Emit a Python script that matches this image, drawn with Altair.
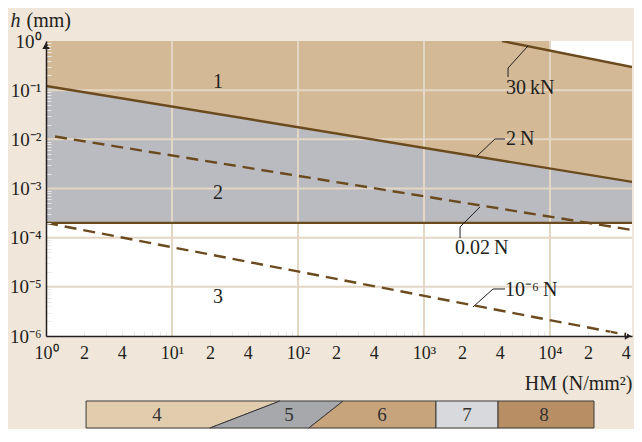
import altair as alt
import pandas as pd

FONT = "Liberation Serif"
INK = "#231f20"
BROWN = "#6b4a1e"
TAN = "#d3b996"
GREY = "#b9bbc0"
WHITE = "#ffffff"
BG = "#f0e6da"
GRID = "#e4d6c4"
MINOR = "#e9e9e9"

# ---------------- data ----------------
hm_domain = [1, 44750]
h_domain = [1e-6, 1]

# boundary / force lines: endpoints (HM N/mm^2, h mm)
line_2N_hm = [1, 5e4]
line_2N_h = [0.122, 0.0013]
line_30kN_hm = [4160, 5e4]
line_30kN_h = [1.0, 0.28]
line_limit_hm = [1, 5e4]
line_limit_h = [2e-4, 2e-4]
line_002N_hm = [1.18, 5e4]
line_002N_h = [0.0114, 1.37e-4]
line_1uN_hm = [1, 4.08e4]
line_1uN_h = [2.0e-4, 1.05e-6]

# white region above the 30 kN line (right of 10^4)
white_hm = [1e4, 5e4]
white_h = [0.64, 0.28]

# region labels
region_text = ["1", "2", "3"]
region_hm = [23.2, 23.2, 23.2]
region_h = [0.147, 8.1e-4, 6.2e-6]

# force labels
force_text = ["30\u2009kN", "2\u2009N", "0.02\u2009N", "10\u207b\u2076\u2009N"]
force_hm = [4475, 4475, 1762, 4395]
force_h = [0.111, 0.0102, 6.2e-5, 8.6e-6]

# leader lines
leader_group = ["a", "a", "a", "b", "b", "b", "c", "c", "c", "d", "d", "d"]
leader_hm = [4645, 4645, 6683, 4395, 3656, 2636, 1932, 1932, 2780, 4395, 3532, 2449]
leader_h = [0.185, 0.282, 0.791, 0.01016, 0.01016, 4.58e-3,
            9.84e-5, 1.65e-4, 4.21e-4, 9.04e-6, 9.04e-6, 3.89e-6]

# axis ticks
x_label_vals = [1, 2, 4, 10, 20, 40, 100, 200, 400, 1000, 2000, 4000, 1e4, 2e4, 4e4]
x_label_text = ["10\u2070", "2", "4", "10\u00b9", "2", "4", "10\u00b2", "2", "4",
                "10\u00b3", "2", "4", "10\u2074", "2", "4"]
y_label_vals = [1, 0.1, 0.01, 1e-3, 1e-4, 1e-5, 1e-6]
y_label_text = ["10\u2070", "10\u207b\u00b9", "10\u207b\u00b2", "10\u207b\u00b3",
                "10\u207b\u2074", "10\u207b\u2075", "10\u207b\u2076"]
grid_h = [0.1, 0.01, 1e-3, 1e-4, 1e-5]
grid_hm = [10, 100, 1000, 1e4]

# material bar segments (HM positions of the boundaries)
bar_seg = ["4", "5", "6", "7", "8"]
bar_top_left = [2.08, 72, 228, 1245, 3870]
bar_top_right = [72, 228, 1245, 3870, 22340]
bar_bot_left = [2.08, 20, 122, 1245, 3870]
bar_bot_right = [20, 122, 1245, 3870, 22340]
bar_colors = ["#e2ccae", "#a6a8ac", "#c8a47d", "#d8d9dc", "#b88f64"]
bar_label_hm = [7.6, 85, 464, 2193, 8960]

# ---------------- layout ----------------
W, H = 586, 295
BAR_TOP, BAR_BOT = 360, 387  # pixel offsets below plot top
k = BAR_BOT - BAR_TOP
bar_d1 = BAR_BOT / k
bar_d0 = bar_d1 - H / k

minor_x = [m * 10 ** e for e in range(0, 5) for m in range(2, 10) if m * 10 ** e < 44750]
minor_y = [m * 10.0 ** e for e in range(-6, 0) for m in range(2, 10)]


def label_expr(vals, texts):
    s = ""
    for v, t in zip(vals, texts):
        s += f"datum.value == {v!r} ? '{t}' : "
    return s + "''"


is_decade = "abs(log(datum.value)/LN10 - round(log(datum.value)/LN10)) < 1e-6"
minor_opacity = {"condition": {"test": is_decade, "value": 0}, "value": 1}

x_axis = alt.Axis(
    values=sorted(set(x_label_vals + minor_x)),
    labelExpr=label_expr(x_label_vals, x_label_text),
    labelOverlap=False, labelFlush=False, labelBound=False,
    ticks=False, tickSize=0, labelPadding=8, labelFontSize=18,
    grid=True, gridColor=MINOR, gridDash=[0, H - 5, 5, 2000], gridWidth=1,
    gridOpacity=minor_opacity,
    domainColor=INK, domainWidth=1.5, zindex=1,
    title="HM (N/mm\u00b2)", titleAngle=0, titleX=586, titleY=47,
    titleAlign="right", titleBaseline="middle", titleFontWeight="normal", titleFontSize=20,
)
y_axis = alt.Axis(
    values=sorted(set(y_label_vals + minor_y)),
    labelExpr=label_expr(y_label_vals, y_label_text),
    labelOverlap=False, labelFlush=False, labelBound=False,
    ticks=False, tickSize=0, labelPadding=5, labelBaseline="middle", labelFontSize=19,
    grid=True, gridColor=MINOR, gridDash=[5, 3000], gridWidth=1, gridOpacity=minor_opacity,
    domainColor=INK, domainWidth=1.5, zindex=1,
    title="h", titleFontStyle="italic", titleAngle=0, titleX=-36, titleY=-21,
    titleAlign="left", titleBaseline="middle", titleFontWeight="normal", titleFontSize=20,
)

X = alt.X("hm:Q", scale=alt.Scale(type="log", domain=hm_domain, nice=False), axis=x_axis)
Y = alt.Y("h:Q", scale=alt.Scale(type="log", domain=h_domain, nice=False), axis=y_axis)

# ---------------- tables ----------------
tan_df = pd.DataFrame({"hm": line_2N_hm, "h": [1, 1], "h2": line_2N_h})
grey_df = pd.DataFrame({"hm": line_2N_hm, "h": line_2N_h, "h2": line_limit_h})
white_df = pd.DataFrame({"hm": white_hm, "h": [1, 1], "h2": white_h})

solid_rows = []
for name, xs, ys in [("2N", line_2N_hm, line_2N_h), ("30kN", line_30kN_hm, line_30kN_h),
                     ("limit", line_limit_hm, line_limit_h)]:
    for a, b in zip(xs, ys):
        solid_rows.append({"series": name, "hm": a, "h": b})
dashed_rows = []
for name, xs, ys in [("0.02N", line_002N_hm, line_002N_h), ("1uN", line_1uN_hm, line_1uN_h)]:
    for a, b in zip(xs, ys):
        dashed_rows.append({"series": name, "hm": a, "h": b})
solid_df = pd.DataFrame(solid_rows)
dashed_df = pd.DataFrame(dashed_rows)

leader_df = pd.DataFrame({"g": leader_group, "hm": leader_hm, "h": leader_h,
                          "i": list(range(len(leader_hm)))})
region_df = pd.DataFrame({"t": region_text, "hm": region_hm, "h": region_h})
force_df = pd.DataFrame({"t": force_text, "hm": force_hm, "h": force_h})
gridh_df = pd.DataFrame({"h": grid_h})
gridv_df = pd.DataFrame({"hm": grid_hm})
arrow_up_df = pd.DataFrame({"hm": [1], "h": [0.8]})
arrow_rt_df = pd.DataFrame({"hm": [41600], "h": [1e-6]})

bar_rows = []
for s, tl, tr, bl, br in zip(bar_seg, bar_top_left, bar_top_right, bar_bot_left, bar_bot_right):
    bar_rows.append({"seg": s, "u": 1, "hm": tl, "hm2": tr})
    bar_rows.append({"seg": s, "u": 0, "hm": bl, "hm2": br})
bar_df = pd.DataFrame(bar_rows)
bar_text_df = pd.DataFrame({"t": bar_seg, "hm": bar_label_hm, "u": [0.5] * 5})

# ---------------- layers ----------------
tan = alt.Chart(tan_df).mark_area(color=TAN, clip=True).encode(x=X, y=Y, y2="h2:Q")
grey = alt.Chart(grey_df).mark_area(color=GREY, clip=True).encode(x="hm:Q", y="h:Q", y2="h2:Q")
white = alt.Chart(white_df).mark_area(color=WHITE, clip=True).encode(x="hm:Q", y="h:Q", y2="h2:Q")
gh = alt.Chart(gridh_df).mark_rule(color=GRID, strokeWidth=2).encode(y="h:Q")
gv = alt.Chart(gridv_df).mark_rule(color=GRID, strokeWidth=2).encode(x="hm:Q")
solid = alt.Chart(solid_df).mark_line(color=BROWN, strokeWidth=2.4, clip=True).encode(
    x="hm:Q", y="h:Q", detail="series:N")
dashed = alt.Chart(dashed_df).mark_line(color=BROWN, strokeWidth=2.4, strokeDash=[12, 7],
                                        clip=True).encode(
    x="hm:Q", y="h:Q", detail="series:N")
leaders = alt.Chart(leader_df).mark_line(color=INK, strokeWidth=1).encode(
    x="hm:Q", y="h:Q", detail="g:N", order="i:Q")
regions = alt.Chart(region_df).mark_text(font=FONT, fontSize=20, color=INK, align="center",
                                          baseline="middle").encode(x="hm:Q", y="h:Q", text="t:N")
forces = alt.Chart(force_df).mark_text(font=FONT, fontSize=20, color=INK, align="left",
                                        baseline="middle").encode(x="hm:Q", y="h:Q", text="t:N")
arrow_up = alt.Chart(arrow_up_df).mark_point(shape="triangle-up", filled=True, color=INK,
                                             size=55, opacity=1).encode(x="hm:Q", y="h:Q")
arrow_rt = alt.Chart(arrow_rt_df).mark_point(shape="triangle-right", filled=True, color=INK,
                                             size=55, opacity=1).encode(x="hm:Q", y="h:Q")

main = alt.layer(tan, grey, white, gh, gv, solid, dashed, leaders, regions, forces,
                 arrow_up, arrow_rt)

barY = alt.Y("u:Q", scale=alt.Scale(domain=[bar_d0, bar_d1], nice=False, zero=False),
             axis=alt.Axis(orient="left", labels=False, ticks=False, domain=False, grid=False,
                           title="(mm)", titleAngle=0, titleX=-20, titleY=-21,
                           titleAlign="left", titleBaseline="middle", titleFontWeight="normal",
                           titleFontSize=20))
bar = alt.Chart(bar_df).mark_area(orient="horizontal", stroke="#3a3a3a", strokeWidth=1,
                                  opacity=1).encode(
    y=barY, x="hm:Q", x2="hm2:Q",
    color=alt.Color("seg:N", scale=alt.Scale(domain=bar_seg, range=bar_colors), legend=None),
    detail="seg:N")
bar_text = alt.Chart(bar_text_df).mark_text(font=FONT, fontSize=19, color="#333333",
                                            baseline="middle").encode(
    x="hm:Q", y="u:Q", text="t:N")
bar_layer = alt.layer(bar, bar_text)

chart = alt.layer(main, bar_layer).resolve_scale(y="independent").properties(
    width=W, height=H,
    autosize=alt.AutoSizeParams(type="none"),
    padding={"left": 38, "top": 33, "right": 2, "bottom": 421 - 33 - H},
    background=BG,
).configure_view(stroke=None, fill=WHITE).configure_axis(
    labelFont=FONT, labelFontSize=18, labelColor=INK,
    titleFont=FONT, titleFontSize=18, titleColor=INK,
).configure_text(font=FONT)

chart.save("out.html", embed_options={"renderer": "svg", "actions": False})
